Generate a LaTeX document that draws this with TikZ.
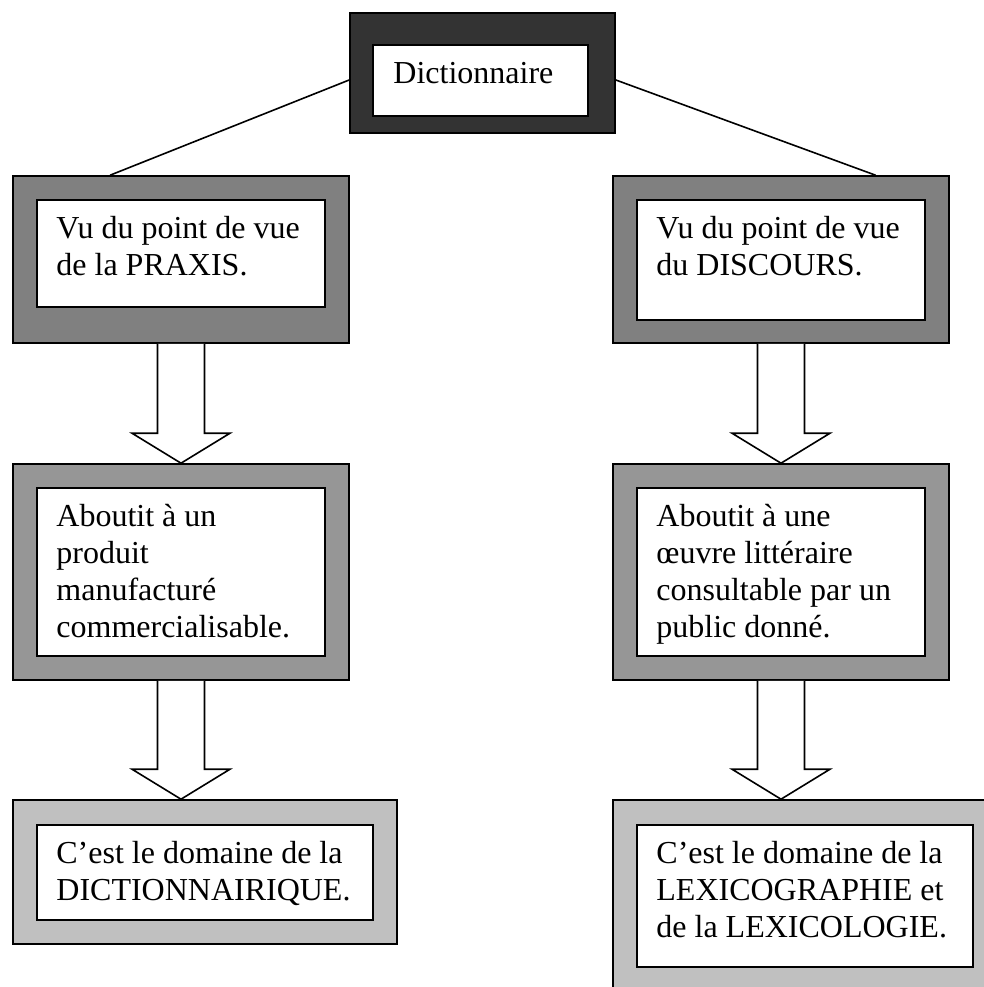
\documentclass[tikz,border=0pt]{standalone}
\usepackage{fontspec}
\setmainfont{Liberation Serif}
\usepackage{tikz}
\usetikzlibrary{positioning, calc}
\usepackage{xcolor}

\definecolor{grisfonce}{HTML}{333333}
\definecolor{grismoyen}{HTML}{808080}
\definecolor{grisclair}{HTML}{969696}
\definecolor{grispale}{HTML}{C0C0C0}

\begin{document}
\begin{tikzpicture}[
    x=1pt, y=-1pt,
    cadre/.style={rectangle, draw, line width=1.6pt, inner sep=0pt},
    fond/.style={rectangle, draw, fill=white, line width=1.6pt, inner sep=0pt},
    texte/.style={anchor=north west, inner sep=0pt, align=left,
    font=\fontsize{32}{37}\selectfont},
    lien/.style={line width=1.6pt},
    fleche/.style={line width=1.6pt, fill=white, line join=miter}
]
\useasboundingbox (0,0) rectangle (984,987);

% cadres exterieurs
\node[cadre, fill=grisfonce, minimum width=265pt, minimum height=120pt] (dico) at (482.5,73) {};
\node[cadre, fill=grismoyen, minimum width=336pt, minimum height=167pt] (praxis) at (181,259.5) {};
\node[cadre, fill=grismoyen, minimum width=336pt, minimum height=167pt] (discours) at (781,259.5) {};
\node[cadre, fill=grisclair, minimum width=336pt, minimum height=216pt] (produit) at (181,572) {};
\node[cadre, fill=grisclair, minimum width=336pt, minimum height=216pt] (oeuvre) at (781,572) {};
\node[cadre, fill=grispale, minimum width=384pt, minimum height=144pt] (dictionnairique) at (205,872) {};
\node[cadre, fill=grispale, minimum width=384pt, minimum height=191pt] (lexico) at (805,895.5) {};

% cadres interieurs
\node[fond, minimum width=215pt, minimum height=71pt] (dico-in) at (480.5,80.5) {};
\node[fond, minimum width=288pt, minimum height=107pt] (praxis-in) at (181,253.5) {};
\node[fond, minimum width=288pt, minimum height=120pt] (discours-in) at (781,260) {};
\node[fond, minimum width=288pt, minimum height=168pt] (produit-in) at (181,572) {};
\node[fond, minimum width=288pt, minimum height=168pt] (oeuvre-in) at (781,572) {};
\node[fond, minimum width=336pt, minimum height=95pt] (dictionnairique-in) at (205,872.5) {};
\node[fond, minimum width=336pt, minimum height=142pt] (lexico-in) at (805,896) {};

% textes
\node[texte] (dico-txt) at ($(dico-in.north west)+(21,13)$) {\strut Dictionnaire};
\node[texte] (praxis-txt) at ($(praxis-in.north west)+(20,13)$) {\strut Vu du point de vue\\de la PRAXIS.};
\node[texte] (discours-txt) at ($(discours-in.north west)+(20,13)$) {\strut Vu du point de vue\\du DISCOURS.};
\node[texte] (produit-txt) at ($(produit-in.north west)+(20,13)$) {\strut Aboutit à un\\produit\\manufacturé\\commercialisable.};
\node[texte] (oeuvre-txt) at ($(oeuvre-in.north west)+(20,13)$) {\strut Aboutit à une\\œuvre littéraire\\consultable par un\\public donné.};
\node[texte] (dictionnairique-txt) at ($(dictionnairique-in.north west)+(20,13)$) {\strut C’est le domaine de la\\DICTIONNAIRIQUE.};
\node[texte] (lexico-txt) at ($(lexico-in.north west)+(20,13)$) {\strut C’est le domaine de la\\LEXICOGRAPHIE et\\de la LEXICOLOGIE.};

% liens
\draw[lien] (dico.183) -- ($(praxis.north west)!0.29!(praxis.north east)$);
\draw[lien] (dico.357) -- ($(discours.north west)!0.78!(discours.north east)$);

% fleches
\foreach \a/\b in {praxis/produit, discours/oeuvre, produit/dictionnairique, oeuvre/lexico}
  \draw[fleche] ($(\a.south)+(-23.5,0)$) -- ($(\a.south |- \b.north)+(-23.5,-30)$) -- ++(-25.5,0)
    -- (\a.south |- \b.north) -- ($(\a.south |- \b.north)+(49,-30)$) -- ++(-25.5,0)
    -- ($(\a.south)+(23.5,0)$);

\end{tikzpicture}
\end{document}
